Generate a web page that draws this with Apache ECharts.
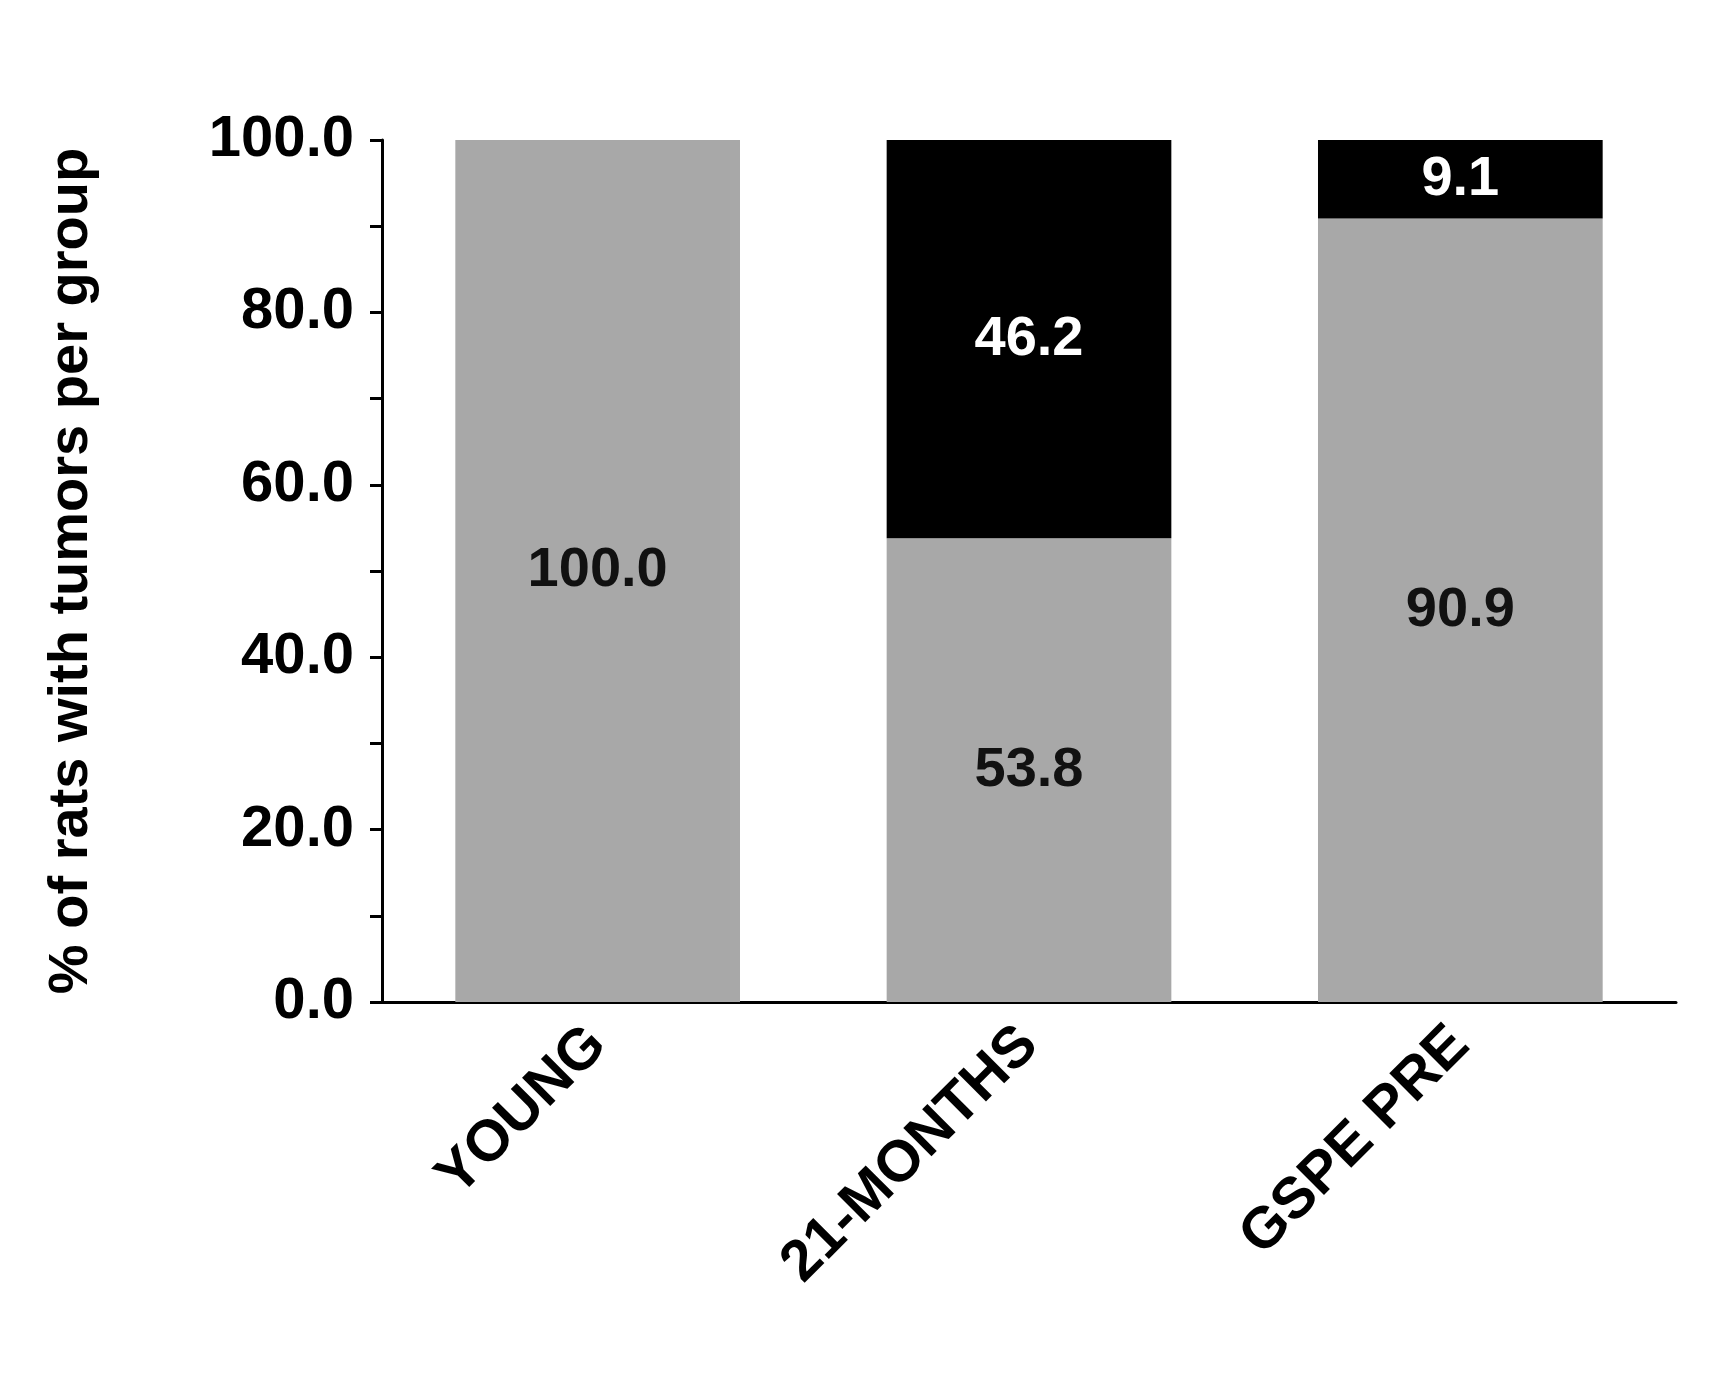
<!DOCTYPE html>
<html>
<head>
<meta charset="UTF-8">
<script src="https://cdn.jsdelivr.net/npm/echarts@6/dist/echarts.min.js"></script>
<style>html,body{margin:0;background:#fff}#chart{width:1722px;height:1387px}</style>
</head>
<body>
<div id="chart"></div>
<script>
var groups = ['YOUNG', '21-MONTHS', 'GSPE PRE'];
var greyPart = [100.0, 53.8, 90.9];
var blackPart = [0, 46.2, 9.1];

var font = 'Liberation Sans, Arial, sans-serif';
var chart = echarts.init(document.getElementById('chart'));
chart.setOption({
	animation: false,
	grid: { left: 382, right: 46, top: 140, bottom: 385 },
	xAxis: {
		type: 'category',
		data: groups,
		axisLine: { lineStyle: { color: '#000', width: 3 } },
		axisTick: { length: 12, lineStyle: { color: '#000', width: 3 } },
		axisLabel: { rotate: 45, color: '#000', fontSize: 58, fontWeight: 'bold', fontFamily: font, margin: 34 }
	},
	yAxis: {
		type: 'value',
		min: 0, max: 100, interval: 20,
		name: '% of rats with tumors per group',
		nameLocation: 'middle',
		nameGap: 282,
		nameTextStyle: { color: '#000', fontSize: 56, fontWeight: 'bold', fontFamily: font },
		axisLine: { show: true, lineStyle: { color: '#000', width: 3 } },
		axisTick: { show: true, length: 12, lineStyle: { color: '#000', width: 3 } },
		minorTick: { show: true, splitNumber: 2, length: 12, lineStyle: { color: '#000', width: 3 } },
		splitLine: { show: false },
		axisLabel: {
			color: '#000', fontSize: 58, fontWeight: 'bold', fontFamily: font, margin: 28,
			formatter: function (v) { return v.toFixed(1); }
		}
	},
	series: [
		{
			type: 'bar', stack: 's', data: greyPart, barWidth: '66%',
			itemStyle: { color: '#a8a8a8' },
			label: {
				show: true, position: 'inside', color: '#111', fontSize: 56, fontWeight: 'bold', fontFamily: font,
				formatter: function (p) { return p.value ? p.value.toFixed(1) : ''; }
			}
		},
		{
			type: 'bar', stack: 's', data: blackPart,
			itemStyle: { color: '#000' },
			label: {
				show: true, position: 'inside', color: '#fff', fontSize: 56, fontWeight: 'bold', fontFamily: font,
				formatter: function (p) { return p.value ? p.value.toFixed(1) : ''; }
			}
		}
	]
});
</script>
</body>
</html>
